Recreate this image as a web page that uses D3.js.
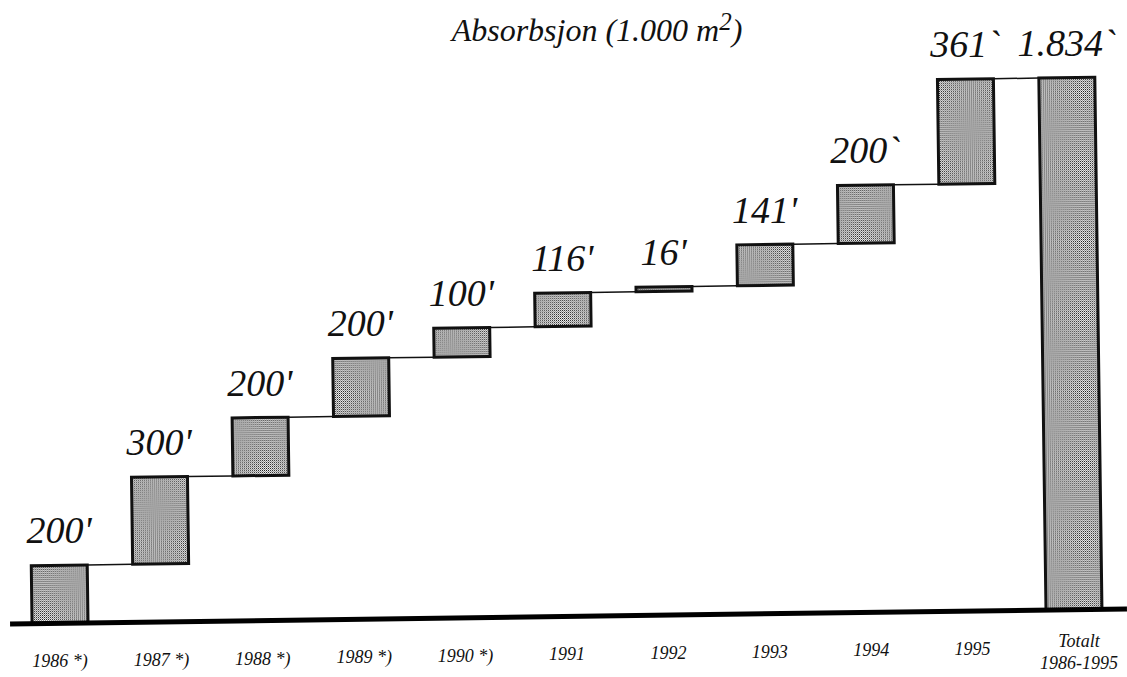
<!DOCTYPE html>
<html>
<head>
<meta charset="utf-8">
<script src="https://cdn.jsdelivr.net/npm/d3@7"></script>
<style>
  html, body { margin: 0; padding: 0; background: #ffffff; }
  svg { display: block; }
</style>
</head>
<body>
<script>
// ---- data ----
const years = ["1986 *)", "1987 *)", "1988 *)", "1989 *)", "1990 *)", "1991", "1992", "1993", "1994", "1995"];
const values = [200, 300, 200, 200, 100, 116, 16, 141, 200, 361];
const valueLabels = ["200'", "300'", "200'", "200'", "100'", "116'", "16'", "141'", "200`", "361`"];
const totalCategory = "Totalt 1986-1995";
const totalLines = ["Totalt", "1986-1995"];
const totalValue = 1834;
const totalLabel = "1.834`";
const titleText = "Absorbsjon (1.000 m";
const titleSup = "2";

// ---- layout ----
const W = 1127, H = 677;
const baseY = 616.5, pivotX = 565, angleDeg = -0.77;
const FONT = '"Liberation Serif"';
const svg = d3.select("body").append("svg").attr("width", W).attr("height", H);

const defs = svg.append("defs");
const pat = defs.append("pattern").attr("id", "ht")
  .attr("patternUnits", "userSpaceOnUse").attr("width", 2).attr("height", 2);
pat.append("rect").attr("width", 2).attr("height", 2).attr("fill", "#f2f2f2");
pat.append("rect").attr("x", 0).attr("y", 0).attr("width", 1).attr("height", 1).attr("fill", "#1a1a1a");
pat.append("rect").attr("x", 1).attr("y", 1).attr("width", 1).attr("height", 1).attr("fill", "#8a8a8a");

// scanned page is slightly tilted: rotate marks, and move text anchors the same way
const a = angleDeg * Math.PI / 180;
function rot(px, py) {
  const dx = px - pivotX, dy = py - baseY;
  return [pivotX + dx * Math.cos(a) - dy * Math.sin(a), baseY + dx * Math.sin(a) + dy * Math.cos(a)];
}

const g = svg.append("g").attr("transform", `rotate(${angleDeg},${pivotX},${baseY})`);
const tg = svg.append("g");

const cats = years.concat([totalCategory]);
const x = d3.scaleBand().domain(cats).range([32, 1102]).paddingInner(0.448).paddingOuter(0);
const y = d3.scaleLinear().domain([0, totalValue]).range([baseY, baseY - 532]);

const cum = Array.from(d3.cumsum(values));
const steps = values.map((v, i) => ({ cat: years[i], start: cum[i] - v, end: cum[i], label: valueLabels[i] }));
const allBars = steps.concat([{ cat: totalCategory, start: 0, end: totalValue, label: totalLabel }]);

function styleText(sel, size) {
  return sel.style("font-family", FONT).style("font-style", "italic")
    .style("font-size", size + "px")
    .attr("fill", "#111");
}
// centre a text on cx by measuring it (start anchored)
function centreAt(sel, cxFn) {
  sel.each(function (d, i) {
    const len = this.getComputedTextLength();
    d3.select(this).attr("x", cxFn(d, i) - len / 2);
  });
}

// title
const title = styleText(tg.append("text"), 32).attr("y", 41);
title.append("tspan").text(titleText);
title.append("tspan").attr("dy", -11).style("font-size", "25px").text(titleSup);
title.append("tspan").attr("dy", 11).text(")");
centreAt(title, () => 597);

// connectors
const connectors = allBars.slice(0, -1).map((d, i) => ({
  x1: x(d.cat) + x.bandwidth(), x2: x(allBars[i + 1].cat), v: d.end
}));
g.selectAll("line.conn").data(connectors).join("line")
  .attr("class", "conn")
  .attr("x1", d => d.x1).attr("x2", d => d.x2)
  .attr("y1", d => y(d.v)).attr("y2", d => y(d.v))
  .attr("stroke", "#111").attr("stroke-width", 1.5);

// bars
g.selectAll("rect.bar").data(allBars).join("rect")
  .attr("class", "bar")
  .attr("x", d => x(d.cat))
  .attr("y", d => y(d.end))
  .attr("width", x.bandwidth())
  .attr("height", d => Math.max(y(d.start) - y(d.end), 1))
  .attr("fill", "url(#ht)")
  .attr("stroke", "#111")
  .attr("stroke-width", 3);

// baseline
g.append("line")
  .attr("x1", 10).attr("x2", 1127)
  .attr("y1", y(0)).attr("y2", y(0))
  .attr("stroke", "#000").attr("stroke-width", 5);

// value labels
const valPos = d => rot(x(d.cat) + x.bandwidth() / 2, y(d.end) - 22);
const vals = styleText(tg.selectAll("text.val").data(allBars).join("text").attr("class", "val"), 38)
  .attr("y", d => valPos(d)[1])
  .text(d => d.label);
centreAt(vals, d => valPos(d)[0]);

// x axis labels: tick positions from the band scale
const tickData = cats.map(c => ({ c, lines: c === totalCategory ? totalLines : [c] }));
const tickPos = d => rot(x(d.c) + x.bandwidth() / 2, y(0));
tickData.forEach(d => {
  const p = tickPos(d);
  d.lines.forEach((s, i) => {
    const t = styleText(tg.append("text").attr("class", "xlab"), 18)
      .attr("y", d.lines.length > 1 ? p[1] + 37 + i * 22 : p[1] + 44)
      .text(s);
    centreAt(t, () => p[0] + (d.lines.length > 1 ? 5 : 0));
  });
});
</script>
</body>
</html>
